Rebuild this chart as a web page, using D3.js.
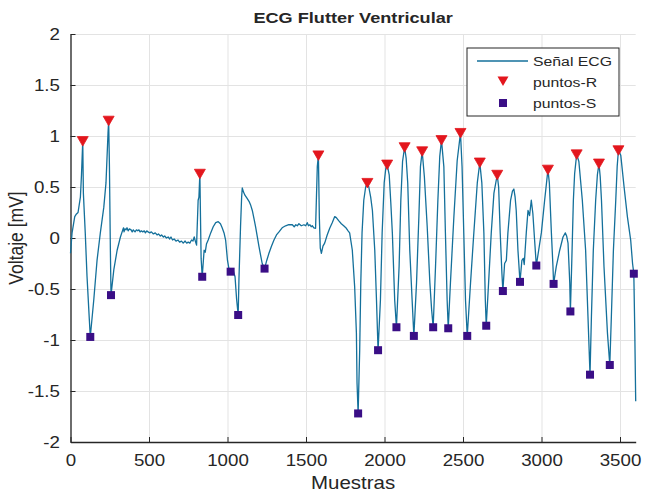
<!DOCTYPE html>
<html lang="es">
<head>
    <meta charset="UTF-8">
    <title>ECG Flutter Ventricular</title>
    <style>
        body { margin: 0; background: #fff; }
        text { font-family: "Liberation Sans", Arial, sans-serif; fill: #262626; }
    </style>
</head>
<body>
    <script src="https://d3js.org/d3.v7.min.js"></script>
    <script>
        // muestras: [muestra, voltaje mV]
        const ecgSamples = [
            [0,-0.15],[10,0.05],[27,0.21],[35,0.23],[48,0.25],[63,0.40],[70,0.62],[78,0.95],
            [82,0.44],[94,0.05],[105,-0.37],[120,-0.80],[126,-0.97],
            [148,-0.61],[169,-0.22],[190,0.05],[212,0.30],[226,0.54],[239,1.03],[243,1.15],
            [248,0.70],[254,-0.12],[258,-0.56],
            [276,-0.31],[297,-0.12],[318,0.01],[333,0.08],[338,0.10],[341,0.06],[347,0.09],[354,0.08],[360,0.10],[367,0.07],
            [375,0.09],[386,0.08],[393,0.06],[400,0.08],[411,0.06],[420,0.08],[428,0.07],[436,0.08],[443,0.06],[452,0.07],
            [460,0.06],[470,0.07],[477,0.05],[486,0.07],[494,0.06],[505,0.05],[515,0.06],[528,0.04],[540,0.05],[552,0.03],
            [560,0.04],[572,0.02],[580,0.03],[592,0.01],[600,0.02],[611,0.00],[622,0.01],[632,-0.01],[640,0.01],[650,-0.02],
            [660,-0.01],[672,-0.03],[685,-0.02],[695,-0.04],[707,-0.03],[718,-0.05],[730,-0.03],[740,-0.05],[750,-0.04],
            [760,-0.05],[771,-0.02],[780,-0.03],[788,0.01],[797,-0.04],[803,-0.07],[813,0.37],[818,0.40],[824,0.63],
            [828,0.20],[832,-0.20],[839,-0.38],
            [851,-0.12],[858,-0.14],[866,-0.06],[877,-0.02],[893,0.05],[909,0.11],[925,0.15],[941,0.16],[955,0.14],[966,0.10],
            [978,0.05],[988,-0.02],[1000,-0.22],[1011,-0.32],[1020,-0.33],[1035,-0.31],[1048,-0.38],[1058,-0.60],[1068,-0.755],
            [1073,-0.40],[1083,0.11],[1090,0.40],[1094,0.49],[1102,0.45],[1111,0.42],[1124,0.39],[1137,0.36],[1148,0.32],
            [1158,0.27],[1170,0.18],[1179,0.11],[1190,0.01],[1200,-0.08],[1211,-0.17],[1221,-0.25],[1236,-0.30],
            [1250,-0.22],[1264,-0.15],[1280,-0.08],[1296,-0.02],[1312,0.03],[1328,0.06],[1348,0.10],[1370,0.12],
            [1390,0.13],[1413,0.13],[1425,0.11],[1435,0.13],[1445,0.12],[1455,0.14],[1470,0.12],[1487,0.13],[1498,0.12],
            [1508,0.15],[1516,0.12],[1525,0.13],[1533,0.11],[1540,0.12],[1550,0.10],[1561,0.095],[1572,0.70],[1579,0.81],
            [1585,0.20],[1591,-0.10],[1598,-0.15],[1608,-0.08],[1619,-0.05],[1635,0.03],[1651,0.095],[1667,0.15],
            [1683,0.21],[1693,0.20],[1708,0.17],[1725,0.14],[1740,0.12],[1757,0.095],[1768,0.07],[1778,0.05],
            [1795,-0.12],[1810,-0.48],[1821,-0.93],[1825,-1.42],[1832,-1.72],
            [1842,-1.10],[1849,-0.44],[1857,0.05],[1868,0.37],[1880,0.50],[1891,0.54],[1900,0.50],[1912,0.40],
            [1923,0.27],[1938,-0.12],[1949,-0.61],[1959,-1.10],
            [1974,-0.61],[1985,0.05],[1998,0.54],[2008,0.68],[2017,0.72],[2030,0.62],[2040,0.35],[2050,0.05],
            [2065,-0.61],[2076,-0.875],
            [2093,-0.28],[2104,0.37],[2115,0.75],[2128,0.89],[2138,0.78],[2148,0.54],[2161,-0.12],[2176,-0.61],[2187,-0.96],
            [2204,-0.44],[2219,0.21],[2229,0.70],[2240,0.85],[2254,0.60],[2272,0.11],[2289,-0.44],[2300,-0.70],[2310,-0.875],
            [2325,-0.28],[2340,0.37],[2352,0.80],[2363,0.96],[2378,0.70],[2388,0.05],[2399,-0.61],[2406,-0.885],
            [2420,-0.44],[2442,0.21],[2463,0.76],[2484,1.03],[2494,0.70],[2505,0.05],[2516,-0.61],[2527,-0.96],
            [2548,-0.44],[2569,0.05],[2591,0.54],[2607,0.74],[2620,0.54],[2633,0.05],[2642,-0.60],[2648,-0.86],
            [2663,-0.44],[2680,0.05],[2697,0.44],[2718,0.62],[2727,0.50],[2737,0.05],[2748,-0.35],[2754,-0.52],
            [2765,-0.25],[2776,-0.22],[2786,0.05],[2803,0.37],[2815,0.46],[2824,0.48],[2832,0.40],[2839,0.27],
            [2850,-0.12],[2863,-0.43],
            [2875,-0.22],[2884,-0.20],[2890,-0.26],[2903,0.05],[2914,0.27],[2924,0.22],[2935,0.37],[2945,0.24],
            [2956,-0.02],[2967,-0.27],
            [2982,-0.12],[2999,0.05],[3020,0.37],[3041,0.67],[3050,0.54],[3063,0.05],[3073,-0.28],[3077,-0.45],
            [3094,-0.28],[3116,-0.12],[3137,0.01],[3152,0.05],[3160,0.02],[3169,-0.05],[3180,-0.44],[3184,-0.72],
            [3192,-0.28],[3203,0.37],[3211,0.63],[3224,0.82],[3238,0.75],[3260,0.37],[3281,-0.12],[3296,-0.77],[3309,-1.34],
            [3318,-0.77],[3330,-0.12],[3345,0.37],[3356,0.62],[3366,0.73],[3374,0.60],[3382,0.37],[3398,-0.28],
            [3420,-0.93],[3435,-1.245],
            [3445,-0.77],[3458,-0.12],[3473,0.37],[3482,0.70],[3490,0.86],[3505,0.81],[3526,0.50],[3547,0.21],
            [3568,-0.02],[3580,-0.25],[3588,-0.35],[3594,-0.90],[3600,-1.60]
        ];

        const puntosR = [
            [78,0.95],[243,1.15],[824,0.63],[1579,0.81],[1891,0.54],[2017,0.72],[2128,0.89],[2240,0.85],
            [2363,0.96],[2484,1.03],[2607,0.74],[2718,0.62],[3041,0.67],[3224,0.82],[3366,0.73],[3490,0.86]
        ];

        const puntosS = [
            [126,-0.97],[258,-0.56],[839,-0.38],[1020,-0.33],[1068,-0.755],[1236,-0.30],[1832,-1.72],
            [1959,-1.10],[2076,-0.875],[2187,-0.96],[2310,-0.875],[2406,-0.885],[2527,-0.96],[2648,-0.86],
            [2754,-0.52],[2863,-0.43],[2967,-0.27],[3077,-0.45],[3184,-0.72],[3309,-1.34],[3435,-1.245],[3588,-0.35]
        ];

        const xTicks = [0, 500, 1000, 1500, 2000, 2500, 3000, 3500];
        const yTicks = [-2, -1.5, -1, -0.5, 0, 0.5, 1, 1.5, 2];
        const legendLabels = ["Señal ECG", "puntos-R", "puntos-S"];

        const width = 646;
        const height = 492;
        const mLeft = 70.5, mRight = 635.7, mTop = 34, mBottom = 442;
        const stretch = 1.17; // el original esta algo estirado en horizontal

        const svg = d3.select("body")
            .append("svg")
            .attr("width", width)
            .attr("height", height)

        const x = d3.scaleLinear().domain([0, 3600]).range([mLeft, mRight]);
        const y = d3.scaleLinear().domain([-2, 2]).range([mBottom, mTop]);

        // rejilla
        svg.append("g")
            .attr("transform", "translate(0," + mBottom + ")")
            .call(d3.axisBottom(x).tickValues(xTicks).tickSize(-(mBottom - mTop)).tickFormat(""))
            .call(g => g.select(".domain").remove())
            .selectAll("line").attr("stroke", "#e3e3e3");
        svg.append("g")
            .attr("transform", "translate(" + mLeft + ",0)")
            .call(d3.axisLeft(y).tickValues(yTicks).tickSize(-(mRight - mLeft)).tickFormat(""))
            .call(g => g.select(".domain").remove())
            .selectAll("line").attr("stroke", "#e3e3e3");

        // ejes
        const xAxis = svg.append("g")
            .attr("transform", "translate(0," + mBottom + ")")
            .call(d3.axisBottom(x).tickValues(xTicks).tickSizeInner(-5).tickSizeOuter(0).tickPadding(10).tickFormat(d3.format("d")));
        const yAxis = svg.append("g")
            .attr("transform", "translate(" + mLeft + ",0)")
            .call(d3.axisLeft(y).tickValues(yTicks).tickSizeInner(-5).tickSizeOuter(0).tickPadding(9).tickFormat(d => String(d)));

        [xAxis, yAxis].forEach(g => {
            g.select(".domain").attr("stroke", "#262626").attr("stroke-width", 1.3);
            g.selectAll(".tick line").attr("stroke", "#262626");
            g.selectAll(".tick text")
                .style("font-size", "16px")
                .attr("fill", "#333")
                .attr("transform", "scale(" + stretch + ",1)");
        });
        xAxis.selectAll(".tick text").attr("dy", "0.85em");

        // senal
        const line = d3.line().x(d => x(d[0])).y(d => y(d[1]));
        svg.append("path")
            .datum(ecgSamples)
            .attr("d", line)
            .attr("fill", "none")
            .attr("stroke", "#14709b")
            .attr("stroke-width", 1.3)
            .attr("stroke-linejoin", "round");

        const tri = "M-5.5,-4.5L5.5,-4.5L0,5Z";
        svg.append("g").selectAll("path")
            .data(puntosR)
            .enter()
            .append("path")
            .attr("d", tri)
            .attr("transform", d => "translate(" + x(d[0]) + "," + y(d[1]) + ")")
            .attr("fill", "#e3161d")
            .attr("stroke", "#e3161d")
            .attr("stroke-width", 0.8);

        svg.append("g").selectAll("rect")
            .data(puntosS)
            .enter()
            .append("rect")
            .attr("x", d => x(d[0]) - 4)
            .attr("y", d => y(d[1]) - 4)
            .attr("width", 8)
            .attr("height", 8)
            .attr("fill", "#3a0e86");

        // titulo y etiquetas
        svg.append("text")
            .attr("transform", "translate(" + (mLeft + mRight) / 2 + ",23) scale(" + stretch + ",1)")
            .attr("text-anchor", "middle")
            .style("font-size", "15.5px")
            .style("font-weight", "bold")
            .text("ECG Flutter Ventricular");

        svg.append("text")
            .attr("transform", "translate(" + (mLeft + mRight) / 2 + ",489) scale(" + stretch + ",1)")
            .attr("text-anchor", "middle")
            .style("font-size", "17.5px")
            .attr("fill", "#333")
            .text("Muestras");

        svg.append("text")
            .attr("transform", "translate(23," + (mTop + mBottom) / 2 + ") scale(" + stretch + ",1) rotate(-90)")
            .attr("text-anchor", "middle")
            .style("font-size", "17.5px")
            .attr("fill", "#333")
            .text("Voltaje [mV]");

        // leyenda
        const legend = svg.append("g").attr("transform", "translate(467,48)");
        legend.append("rect")
            .attr("width", 152)
            .attr("height", 68)
            .attr("fill", "#fff")
            .attr("stroke", "#262626")
            .attr("stroke-width", 1);
        legend.append("line")
            .attr("x1", 10).attr("x2", 61).attr("y1", 13).attr("y2", 13)
            .attr("stroke", "#14709b").attr("stroke-width", 1.3);
        legend.append("path")
            .attr("d", tri)
            .attr("transform", "translate(36,33)")
            .attr("fill", "#e3161d");
        legend.append("rect")
            .attr("x", 32).attr("y", 51).attr("width", 8).attr("height", 8)
            .attr("fill", "#3a0e86");
        legend.selectAll("text.lbl")
            .data(legendLabels)
            .enter()
            .append("text")
            .attr("class", "lbl")
            .attr("transform", (d, i) => "translate(66," + (18 + i * 21) + ") scale(" + stretch + ",1)")
            .style("font-size", "13.5px")
            .attr("fill", "#333")
            .text(d => d);
    </script>
</body>
</html>
